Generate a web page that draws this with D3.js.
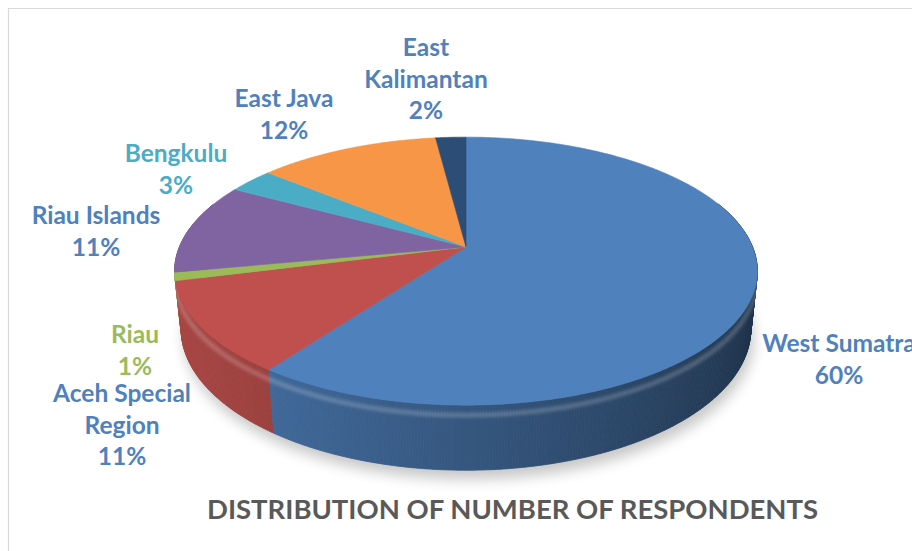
<!DOCTYPE html>
<html>
<head>
<meta charset="utf-8">
<script src="https://cdn.jsdelivr.net/npm/d3@7"></script>
<style>
  body { margin: 0; background: #fff; }
  svg { display: block; }
</style>
</head>
<body>
<svg id="chart"></svg>
<script>
// Data
const regions = ["West Sumatra", "Aceh Special Region", "Riau", "Riau Islands", "Bengkulu", "East Java", "East Kalimantan"];
const shares = [60, 11, 1, 11, 3, 12, 2];
const title = "DISTRIBUTION OF NUMBER OF RESPONDENTS";

// label lines, as Excel wrapped them
const labelLines = [
    ["West Sumatra"],
    ["Aceh Special", "Region"],
    ["Riau"],
    ["Riau Islands"],
    ["Bengkulu"],
    ["East Java"],
    ["East", "Kalimantan"]
];

// Styles / layout
const sliceColors = ["#4f81bd", "#c0504d", "#9bbb59", "#8064a2", "#4bacc6", "#f79646", "#2c4d75"];
const labelColors = ["#4f81bd", "#4f81bd", "#9bbb59", "#4f81bd", "#4bacc6", "#4f81bd", "#4f81bd"];
// label anchor: centre x and baseline of first line
const labelAnchor = [[839, 352], [122, 402], [135, 343], [96, 224], [176, 162], [284, 107], [426, 56]];

const width = 912;
const height = 551;

const svg = d3.select("#chart")
    .attr("width", width)
    .attr("height", height);

// frame of the chart area
svg.append("path")
    .attr("d", "M8.5,551 L8.5,8.5 L912,8.5")
    .attr("fill", "none")
    .attr("stroke", "#d9d9d9")
    .attr("stroke-width", 1.2);

// 3D projection of the pie (unit radius, camera tilted)
const cx = 466, cy = 247;
const Fx = 1410, Fy = 1377, D = 4.92;
const tilt = 27.6 * Math.PI / 180;
const depth = 0.235;
const sinT = Math.sin(tilt), cosT = Math.cos(tilt);

function project(theta, r, y) {
    const X = r * Math.sin(theta);
    const Z = -r * Math.cos(theta);
    const v = Z * sinT + y * cosT;
    const d = D - Z * cosT + y * sinT;
    return [cx + Fx * X / d, cy + Fy * v / d];
}

const pie = d3.pie().sort(null).startAngle(0).endAngle(2 * Math.PI);
const arcs = pie(shares);

const defs = svg.append("defs");
defs.append("filter")
    .attr("id", "blur-shadow")
    .attr("x", "-20%").attr("y", "-20%").attr("width", "140%").attr("height", "140%")
    .append("feGaussianBlur")
    .attr("stdDeviation", 7);
defs.append("filter")
    .attr("id", "blur-soft")
    .append("feGaussianBlur")
    .attr("stdDeviation", 1.5);

const line = d3.line();
const step = Math.PI / 360;

// shadow under the pie
const shadowPts = d3.range(0, 2 * Math.PI + step, step).map(a => {
    const p = project(a, 1.0, depth);
    return [p[0] + 3, p[1] + 9];
});
svg.append("path")
    .attr("d", line(shadowPts) + "Z")
    .attr("fill", "#000")
    .attr("opacity", 0.22)
    .attr("filter", "url(#blur-shadow)");

// side walls: small quads shaded by their facing
function shade(theta) {
    return 0.62 - 0.25 * Math.sin(theta) - 0.05 * Math.cos(theta);
}
const quads = [];
arcs.forEach((a, i) => {
    const n = Math.max(1, Math.ceil((a.endAngle - a.startAngle) / step));
    for (let k = 0; k < n; k++) {
        const t0 = a.startAngle + (a.endAngle - a.startAngle) * k / n;
        const t1 = a.startAngle + (a.endAngle - a.startAngle) * (k + 1) / n;
        const tm = (t0 + t1) / 2;
        if (-Math.cos(tm) < -0.35) continue; // hidden behind the top
        quads.push({ i, t0, t1, z: -Math.cos(tm) });
    }
});
quads.sort((a, b) => a.z - b.z);

svg.append("g")
    .selectAll("path")
    .data(quads)
    .enter().append("path")
    .attr("d", q => line([
        project(q.t0, 1, 0), project(q.t1, 1, 0),
        project(q.t1, 1, depth), project(q.t0, 1, depth)
    ]) + "Z")
    .each(function (q) {
        const c = d3.rgb(sliceColors[q.i]);
        const f = shade((q.t0 + q.t1) / 2);
        const col = d3.rgb(c.r * f, c.g * f, c.b * f);
        d3.select(this).attr("fill", col).attr("stroke", col).attr("stroke-width", 0.8);
    });

// bevel highlight along the top rim (front half)
const rimPts = d3.range(Math.PI * 0.5, Math.PI * 1.5, step).map(a => project(a, 1, depth * 0.15));
svg.append("path")
    .attr("d", line(rimPts))
    .attr("fill", "none")
    .attr("stroke", "#fff")
    .attr("stroke-opacity", 0.18)
    .attr("stroke-width", 5)
    .attr("filter", "url(#blur-soft)");

// top faces
svg.append("g")
    .selectAll("path")
    .data(arcs)
    .enter().append("path")
    .attr("d", a => {
        const pts = [project(0, 0, 0)];
        const n = Math.max(2, Math.ceil((a.endAngle - a.startAngle) / step));
        for (let k = 0; k <= n; k++) {
            pts.push(project(a.startAngle + (a.endAngle - a.startAngle) * k / n, 1, 0));
        }
        return line(pts) + "Z";
    })
    .attr("fill", (a, i) => sliceColors[i])
    .attr("stroke", (a, i) => sliceColors[i])
    .attr("stroke-width", 0.6)
    .attr("stroke-linejoin", "round");

// data labels
const lineGap = 31.5;
const fmt = d3.format(".0%");
const total = d3.sum(shares);
const labels = svg.append("g")
    .style("font-family", "Lato, 'Open Sans', sans-serif")
    .style("font-weight", "bold")
    .style("font-size", "24.5px")
    .attr("text-anchor", "middle");

regions.forEach((name, i) => {
    const lines = labelLines[i].concat([fmt(shares[i] / total)]);
    const [lx, ly] = labelAnchor[i];
    lines.forEach((txt, j) => {
        labels.append("text")
            .attr("x", lx)
            .attr("y", ly + j * lineGap)
            .attr("fill", labelColors[i])
            .text(txt);
    });
});

// chart title
svg.append("text")
    .attr("x", 512.5)
    .attr("y", 519)
    .attr("text-anchor", "middle")
    .style("font-family", "Lato, 'Open Sans', sans-serif")
    .style("font-weight", "bold")
    .style("font-size", "27px")
    .attr("fill", "#595959")
    .attr("textLength", 611)
    .attr("lengthAdjust", "spacingAndGlyphs")
    .text(title);
</script>
</body>
</html>
